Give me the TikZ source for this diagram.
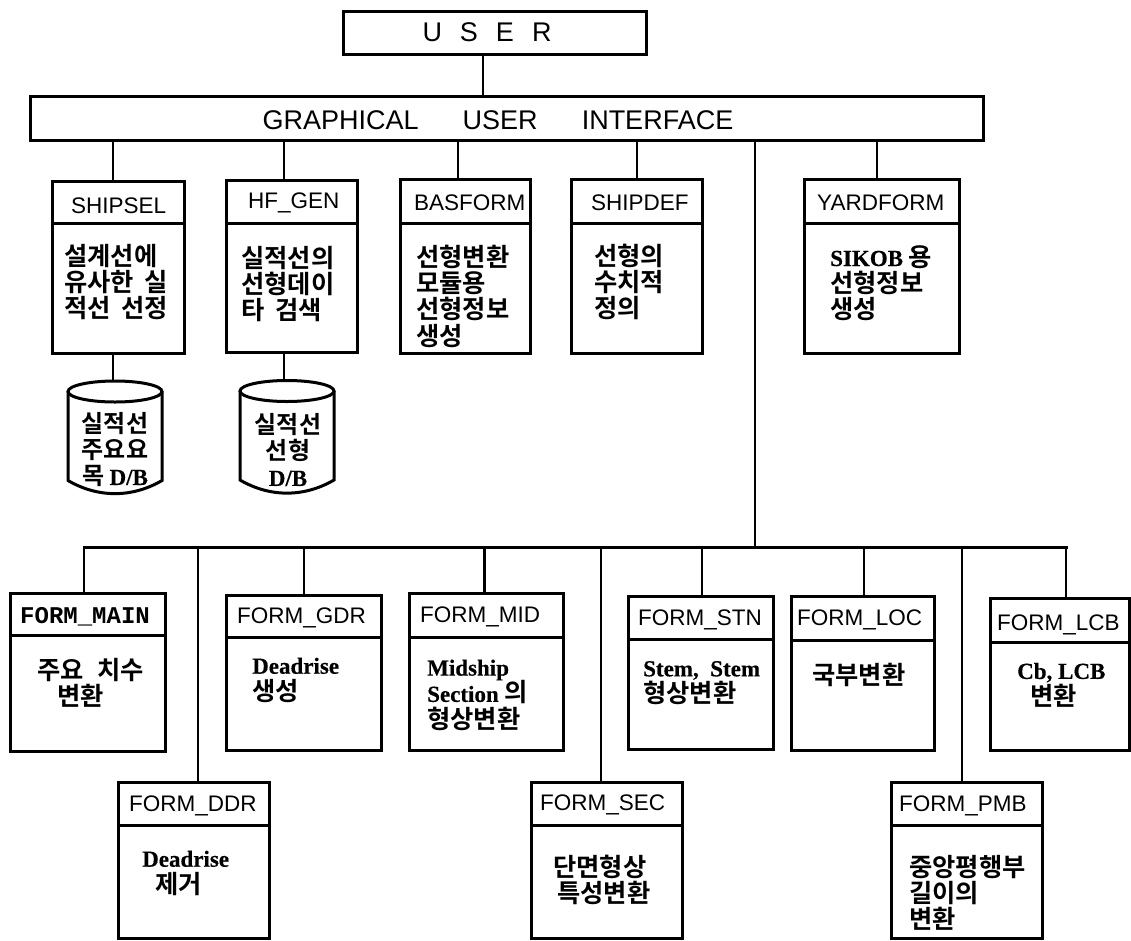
\documentclass[tikz,border=0pt]{standalone}
\usepackage{fontspec}
\setmainfont{Liberation Sans}
\newfontfamily\korfont{Noto Sans CJK KR}[BoldFont={Noto Sans CJK KR Bold}]
\newfontfamily\latfont{Liberation Serif}[FakeBold=0.35]
\newfontfamily\tmono{Liberation Mono}
\newcommand{\Lt}[1]{{\latfont\fontsize{23}{26}\selectfont #1}}
\newcommand{\wgap}{\hspace{5pt}}
\newcommand{\modbox}[6]{% name x1 y1 x2 y2 ydiv
  \node[boxnode, minimum width=#4-#2, minimum height=#5-#3] (#1) at ({(#2+#4)/2},{(#3+#5)/2}) {};
  \draw[boxline] (#1.west |- 0,#6) -- (#1.east |- 0,#6);
}
\newcommand{\dbdrum}[1]{% outline drawn on the invisible node #1
  \draw[boxline] ([yshift=-10.5pt]#1.north west) -- ([yshift=13.5pt]#1.south west)
    .. controls ([xshift=30pt,yshift=-4pt]#1.south west) and ([xshift=-30pt,yshift=-4pt]#1.south east) .. ([yshift=13.5pt]#1.south east)
    -- ([yshift=-10.5pt]#1.north east);
  \draw[boxline] ([yshift=-10.5pt]#1.north) ellipse [x radius=47, y radius=10.5];
}
\tikzset{
  boxline/.style={line width=3pt},
  boxnode/.style={draw, rectangle, line width=3pt, inner sep=0pt, outer sep=0pt},
  wire/.style={line width=2.5pt},
  bigtitle/.style={inner sep=0pt, font=\fontsize{27}{30}\selectfont},
  boxtitle/.style={inner sep=0pt, anchor=west, font=\fontsize{22.5}{26}\selectfont},
  monotitle/.style={inner sep=0pt, anchor=west, font=\tmono\bfseries\fontsize{24}{26}\selectfont},
  bodytext/.style={inner sep=0pt, anchor=west, align=left, font=\korfont\bfseries\fontsize{25.3}{26.3}\selectfont},
  dbtext/.style={inner sep=0pt, align=center, font=\korfont\bfseries\fontsize{24}{26}\selectfont},
  dbcyl/.style={rectangle, inner sep=0pt, outer sep=0pt, minimum width=94pt, minimum height=113pt},
}
\begin{document}
\begin{tikzpicture}[x=1pt,y=-1pt]
\useasboundingbox[fill=white] (0,0) rectangle (1131,940);
% top
\node[boxnode, minimum width=303pt, minimum height=43pt] (user) at (494.5,32.5) {};
\node[bigtitle] (usert) at (487,32) {\spaceskip=18pt U S E R};
\node[boxnode, minimum width=953pt, minimum height=44pt] (gui) at (506.5,118) {};
\node[bigtitle] (guit) at (498,120) {\spaceskip=44pt GRAPHICAL USER INTERFACE};
\draw[wire] ([xshift=-11.5pt]user.south) -- ([xshift=-11.5pt]user.south |- gui.north);
% upper modules
\modbox{sel}{52}{181}{184}{353}{223}
\modbox{hf}{226}{180}{357}{352}{223}
\modbox{bas}{400}{179}{530}{353}{223}
\modbox{def}{571}{179}{702}{353}{223}
\modbox{yard}{804}{179}{959}{353}{223}
\node[boxtitle] (selt) at (71,206) {SHIPSEL};
\node[boxtitle] (hft) at (248,203) {HF\_GEN};
\node[boxtitle] (bast) at (414,203) {BASFORM};
\node[boxtitle] (deft) at (591,203) {SHIPDEF};
\node[boxtitle] (yardt) at (817,203) {YARDFORM};
\node[bodytext] (selb) at (64,282) {설계선에\\유사한 \wgap 실\\적선 \wgap 선정};
\node[bodytext] (hfb) at (241,284) {실적선의\\선형데이\\타 \wgap 검색};
\node[bodytext] (basb) at (416,296) {선형변환\\모듈용\\선형정보\\생성};
\node[bodytext] (defb) at (594,282) {선형의\\수치적\\정의};
\node[bodytext] (yardb) at (830,283) {\Lt{SIKOB} 용\\선형정보\\생성};
\draw[wire] ([xshift=-5pt]sel.north) -- ([xshift=-5pt]sel.north |- gui.south);
\draw[wire] ([xshift=-7.5pt]hf.north) -- ([xshift=-7.5pt]hf.north |- gui.south);
\draw[wire] ([xshift=-7pt]bas.north) -- ([xshift=-7pt]bas.north |- gui.south);
\draw[wire] ([xshift=.5pt]def.north) -- ([xshift=.5pt]def.north |- gui.south);
\draw[wire] ([xshift=-4.5pt]yard.north) -- ([xshift=-4.5pt]yard.north |- gui.south);
% databases
\node[dbcyl] (db1) at (115,437.5) {};
\node[dbcyl] (db2) at (287,437) {};
\dbdrum{db1}
\dbdrum{db2}
\node[dbtext] (db1t) at (115,450) {실적선\\주요요\\목 \Lt{D/B}};
\node[dbtext] (db2t) at (288,450) {실적선\\선형\\\Lt{D/B}};
\draw[wire] ([xshift=-5pt]sel.south) -- ([xshift=-5pt]sel.south |- db1.north);
\draw[wire] ([xshift=-7.5pt]hf.south) -- ([xshift=-7.5pt]hf.south |- db2.north);
% lower bus
\coordinate (busl) at (84,547);
\coordinate (busr) at (1066,547);
\coordinate (trunk) at (755,547);
\draw[wire] (gui.south -| trunk) -- (trunk);
\draw[boxline, line cap=rect] (busl) -- (busr);
% lower modules
\modbox{main}{10}{593}{165}{751}{635}
\modbox{gdr}{226}{595}{381}{750}{637}
\modbox{mid}{409}{593}{563}{750}{637}
\modbox{stn}{628}{596}{773}{749}{639}
\modbox{loc}{791}{596}{934}{750}{640}
\modbox{lcb}{990}{598}{1129.5}{750}{642}
\modbox{ddr}{118}{782}{269}{938}{825}
\modbox{sec}{531}{782}{682}{938}{825}
\modbox{pmb}{891}{782}{1042}{938}{825}
\node[monotitle] (maint) at (20,617) {FORM\_MAIN};
\node[boxtitle] (gdrt) at (237,618) {FORM\_GDR};
\node[boxtitle] (midt) at (420,617) {FORM\_MID};
\node[boxtitle] (stnt) at (638,620) {FORM\_STN};
\node[boxtitle] (loct) at (797,620) {FORM\_LOC};
\node[boxtitle] (lcbt) at (997,625) {FORM\_LCB};
\node[boxtitle] (ddrt) at (129,806) {FORM\_DDR};
\node[boxtitle] (sect) at (540,805) {FORM\_SEC};
\node[boxtitle] (pmbt) at (899,806) {FORM\_PMB};
\node[bodytext] (mainb) at (37,683) {주요 \hspace{8pt}치수\\\hspace*{20pt}변환};
\node[bodytext] (gdrb) at (252,680) {\Lt{Deadrise}\\생성};
\node[bodytext] (midb) at (427,695) {\Lt{Midship}\\\Lt{Section} 의\\형상변환};
\node[bodytext] (stnb) at (643,683) {\Lt{Stem,\ \ Stem}\\형상변환};
\node[bodytext] (locb) at (812,675) {국부변환};
\node[bodytext] (lcbb) at (1017,685) {\Lt{Cb, LCB}\\\hspace*{13pt}변환};
\node[bodytext] (ddrb) at (142,873) {\Lt{Deadrise}\\\hspace*{13pt}제거};
\node[bodytext] (secb) at (553,880) {단면형상\\\hspace*{4pt}특성변환};
\node[bodytext] (pmbb) at (909,893) {중앙평행부\\길이의\\변환};
\draw[wire] (main.north -| busl) -- (busl);
\draw[wire] ([xshift=4.5pt]ddr.north) -- ([xshift=4.5pt]ddr.north |- busl);
\draw[wire] ([xshift=.5pt]gdr.north) -- ([xshift=.5pt]gdr.north |- busl);
\draw[boxline] ([xshift=-2pt]mid.north) -- ([xshift=-2pt]mid.north |- busl);
\draw[wire] ([xshift=-5.5pt]sec.north) -- ([xshift=-5.5pt]sec.north |- busl);
\draw[wire] ([xshift=1.5pt]stn.north) -- ([xshift=1.5pt]stn.north |- busl);
\draw[wire] ([xshift=1.5pt]loc.north) -- ([xshift=1.5pt]loc.north |- busl);
\draw[wire] ([xshift=-4.5pt]pmb.north) -- ([xshift=-4.5pt]pmb.north |- busl);
\draw[wire] (lcb.north -| busr) -- (busr);
\end{tikzpicture}
\end{document}
